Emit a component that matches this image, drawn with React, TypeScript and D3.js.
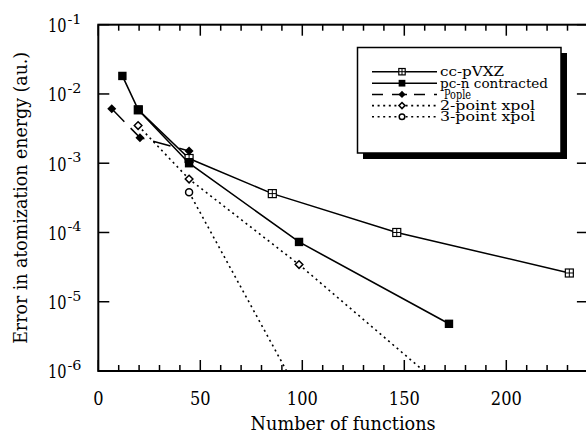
import React from "react";
import * as d3 from "d3";

// Basis-set convergence: error in atomization energy vs. number of basis functions
const ccX = [19.6, 44.5, 85.3, 146.3, 230.9];
const ccY = [5.9e-3, 1.17e-3, 3.64e-4, 1.0e-4, 2.6e-5];

const pcX = [11.8, 19.6, 44.5, 98.4, 171.9];
const pcY = [1.82e-2, 5.9e-3, 1.0e-3, 7.3e-5, 4.8e-6];

const popleX = [6.6, 20.4, 44.5];
const popleY = [6.1e-3, 2.34e-3, 1.5e-3];

const twoX = [19.5, 44.5, 98.4, 171.9];
const twoY = [3.5e-3, 5.9e-4, 3.44e-5, 4.9e-7];

const threeX = [44.5, 98.4];
const threeY = [3.8e-4, 4.7e-7];

const xTickLabels = ["0", "50", "100", "150", "200"];
const yTickExps = [-1, -2, -3, -4, -5, -6];

const seriesNames = ["cc-pVXZ", "pc-n contracted", "Pople", "2-point  xpol", "3-point  xpol"];

const W = 586;
const H = 434;
const L = 98.3;
const R = 587.9;
const T = 24.7;
const B = 371;

type Kind = "cc" | "pc" | "pople" | "two" | "three";

function Marker({ kind, cx, cy, s = 1 }: { kind: Kind; cx: number; cy: number; s?: number }) {
  if (kind === "cc") {
    const h = 4 * s;
    return (
      <g>
        <rect x={cx - h} y={cy - h} width={2 * h} height={2 * h} fill="#fff" stroke="#000" strokeWidth={1.2} />
        <line x1={cx} x2={cx} y1={cy - h} y2={cy + h} stroke="#000" strokeWidth={1} />
        <line x1={cx - h} x2={cx + h} y1={cy} y2={cy} stroke="#000" strokeWidth={1} />
      </g>
    );
  }
  if (kind === "pc") {
    const h = 4.2 * s;
    return <rect x={cx - h} y={cy - h} width={2 * h} height={2 * h} fill="#000" />;
  }
  if (kind === "pople") {
    const h = 4.5 * s;
    return (
      <path d={`M${cx},${cy - h}L${cx + h},${cy}L${cx},${cy + h}L${cx - h},${cy}Z`} fill="#000" />
    );
  }
  if (kind === "two") {
    const h = 3.8 * s;
    return (
      <path
        d={`M${cx},${cy - h}L${cx + h},${cy}L${cx},${cy + h}L${cx - h},${cy}Z`}
        fill="#fff"
        stroke="#000"
        strokeWidth={1.5}
      />
    );
  }
  return <circle cx={cx} cy={cy} r={3.5 * s} fill="#fff" stroke="#000" strokeWidth={1.5} />;
}

const styles: Record<Kind, { dash?: string; width: number }> = {
  cc: { width: 1.5 },
  pc: { width: 1.6 },
  pople: { dash: "18,9", width: 1.5 },
  two: { dash: "2,3.6", width: 1.6 },
  three: { dash: "2,3.6", width: 1.6 },
};

export default function App() {
  const x = d3.scaleLinear().domain([0, 240]).range([L, R]);
  const y = d3.scaleLog().domain([1e-6, 1e-1]).range([B, T]);

  const series: { kind: Kind; xs: number[]; ys: number[] }[] = [
    { kind: "cc", xs: ccX, ys: ccY },
    { kind: "pc", xs: pcX, ys: pcY },
    { kind: "two", xs: twoX, ys: twoY },
    { kind: "three", xs: threeX, ys: threeY },
    { kind: "pople", xs: popleX, ys: popleY },
  ];

  const line = d3
    .line<[number, number]>()
    .x((d) => x(d[0]))
    .y((d) => y(d[1]));

  const xTicks = d3.range(0, 241, 10);
  const yTicks = yTickExps.map((e) => Math.pow(10, e));

  const legendKinds: Kind[] = ["cc", "pc", "pople", "two", "three"];
  const legendRowY = [71.7, 83.2, 94.4, 105.6, 116.8];
  const legendTextLen = [64, 108, 27, 95, 95];

  const txt: React.CSSProperties = { fontFamily: "DejaVu Serif", fontStretch: "condensed" };

  return (
    <svg width={W} height={H} style={{ position: "absolute", left: 0, top: 0 }}>
      <rect width={W} height={H} fill="#fff" />
      <defs>
        <clipPath id="plotClip">
          <rect x={L} y={T} width={R - L} height={B - T} />
        </clipPath>
      </defs>

      {/* ticks, bottom and top, pointing inward */}
      {xTicks.map((t) => {
        const major = t % 50 === 0;
        const len = major ? 11 : 6;
        return (
          <g key={"xt" + t} stroke="#000" strokeWidth={1.5}>
            <line x1={x(t)} x2={x(t)} y1={B} y2={B - len} />
            <line x1={x(t)} x2={x(t)} y1={T} y2={T + len} />
          </g>
        );
      })}
      {yTicks.map((t) => (
        <g key={"yt" + t} stroke="#000" strokeWidth={1.5}>
          <line x1={L} x2={L + 11} y1={y(t)} y2={y(t)} />
          <line x1={R} x2={R - 11} y1={y(t)} y2={y(t)} />
        </g>
      ))}

      {/* series */}
      <g clipPath="url(#plotClip)">
        {series.map((s) => (
          <path
            key={"l" + s.kind}
            d={line(s.xs.map((v, i) => [v, s.ys[i]] as [number, number])) || ""}
            fill="none"
            stroke="#000"
            strokeWidth={styles[s.kind].width}
            strokeDasharray={styles[s.kind].dash}
          />
        ))}
        {series.map((s) =>
          s.xs.map((v, i) => (
            <Marker key={s.kind + i} kind={s.kind} cx={x(v)} cy={y(s.ys[i])} />
          ))
        )}
      </g>

      {/* frame */}
      <rect x={L} y={T} width={R - L} height={B - T} fill="none" stroke="#000" strokeWidth={2} />

      {/* x tick labels */}
      {xTickLabels.map((lab) => (
        <text key={"xl" + lab} x={x(+lab)} y={405} textAnchor="middle" fontSize={18} style={txt}>
          {lab}
        </text>
      ))}

      {/* y tick labels as 10^n */}
      {yTickExps.map((e) => {
        const yy = y(Math.pow(10, e));
        return (
          <g key={"yl" + e}>
            <text
              x={48}
              y={yy + 7.3}
              fontSize={19}
              textLength={18.5}
              lengthAdjust="spacingAndGlyphs"
              style={txt}
            >
              10
            </text>
            <text
              x={67.5}
              y={yy - 1}
              fontSize={12.8}
              textLength={14}
              lengthAdjust="spacingAndGlyphs"
              style={txt}
            >
              {"-" + Math.abs(e)}
            </text>
          </g>
        );
      })}

      {/* axis titles */}
      <text
        x={(L + R) / 2}
        y={430}
        textAnchor="middle"
        fontSize={18}
        textLength={185}
        lengthAdjust="spacingAndGlyphs"
        style={txt}
      >
        Number of functions
      </text>
      <text
        transform={`translate(27,${(T + B) / 2}) rotate(-90)`}
        textAnchor="middle"
        fontSize={18}
        textLength={292}
        lengthAdjust="spacingAndGlyphs"
        style={txt}
      >
        Error in atomization energy (au.)
      </text>

      {/* legend with drop shadow */}
      <rect x={363} y={53} width={204} height={106} fill="#000" />
      <rect x={357.5} y={47.5} width={203.5} height={105.5} fill="#fff" stroke="#000" strokeWidth={1.5} />
      {legendKinds.map((k, i) => (
        <g key={"lg" + k}>
          <line
            x1={372}
            x2={437}
            y1={legendRowY[i]}
            y2={legendRowY[i]}
            stroke="#000"
            strokeWidth={styles[k].width}
            strokeDasharray={k === "pople" ? "11,9,15,7" : styles[k].dash}
          />
          <Marker kind={k} cx={402} cy={legendRowY[i]} s={0.8} />
          <text
            x={k === "pople" ? 444 : 440}
            y={legendRowY[i] + 4.4}
            fontSize={12.2}
            textLength={legendTextLen[i]}
            lengthAdjust="spacingAndGlyphs"
            style={txt}
          >
            {seriesNames[i]}
          </text>
        </g>
      ))}
    </svg>
  );
}
